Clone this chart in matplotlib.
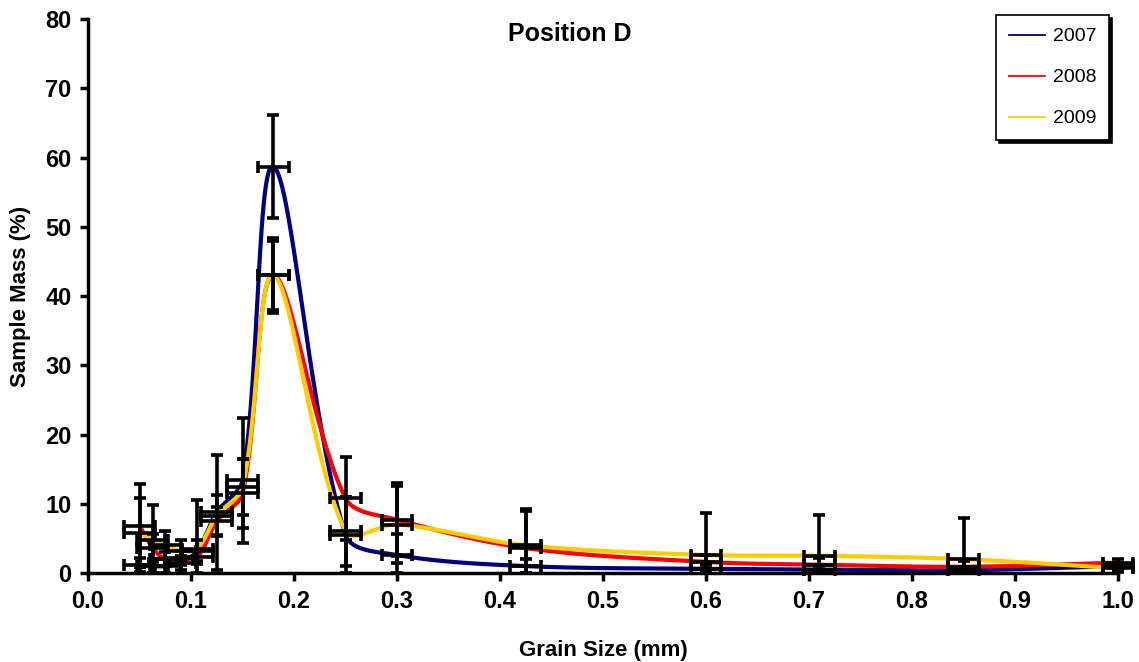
import numpy as np
import matplotlib
matplotlib.use('Agg')
import matplotlib.pyplot as plt
from matplotlib.lines import Line2D

# grain size classes (mm)
grain = [0.05, 0.063, 0.075, 0.09, 0.106, 0.125, 0.15, 0.18, 0.25, 0.3, 0.425, 0.6, 0.71, 0.85, 1.0]

# sample mass (%) per year
mass_2007 = [1.2, 1.0, 1.0, 1.5, 3.2, 8.8, 13.4, 58.7, 5.5, 2.6, 1.0, 0.6, 0.5, 0.4, 1.0]
mass_2008 = [6.8, 3.6, 2.0, 2.2, 2.3, 7.5, 11.5, 43.0, 10.8, 7.7, 3.6, 1.6, 1.2, 0.9, 1.5]
mass_2009 = [5.8, 4.8, 4.0, 3.2, 3.5, 8.3, 12.4, 43.0, 6.0, 7.0, 4.0, 2.6, 2.5, 2.0, 0.7]

# vertical error (+/-)
err_2007 = [1.0, 1.0, 1.0, 1.0, 1.5, 8.3, 9.0, 7.5, 5.5, 3.0, 1.0, 0.6, 0.5, 0.4, 0.5]
err_2008 = [6.0, 2.0, 1.0, 1.0, 1.0, 2.0, 5.0, 5.4, 6.0, 5.3, 5.7, 1.0, 1.0, 0.8, 0.5]
err_2009 = [5.0, 5.0, 2.0, 1.5, 7.0, 3.0, 4.0, 5.0, 5.0, 5.5, 5.0, 6.0, 5.9, 6.0, 0.5]
xerr = 0.015

years = ['2007', '2008', '2009']
colors = ['#000080', '#ff0000', '#ffcc00']


def smooth(x, y, sx=1030.0, sy=6.92, n=40):
    # excel-like smoothed line, control points scaled by segment length on screen
    P = np.column_stack([np.asarray(x, float) * sx, np.asarray(y, float) * sy])
    out = []
    for i in range(len(P) - 1):
        p0 = P[i - 1] if i > 0 else P[i]
        p1 = P[i]
        p2 = P[i + 1]
        p3 = P[i + 2] if i + 2 < len(P) else P[i + 1]
        d01 = np.hypot(*(p1 - p0))
        d12 = np.hypot(*(p2 - p1))
        d23 = np.hypot(*(p3 - p2))
        f1 = d12 / (d01 + d12) if d01 + d12 > 0 else 0
        f2 = d12 / (d12 + d23) if d12 + d23 > 0 else 0
        c1 = p1 + (p2 - p0) * f1 / 3.0
        c2 = p2 - (p3 - p1) * f2 / 3.0
        t = np.linspace(0, 1, n)[:, None]
        seg = ((1 - t) ** 3) * p1 + 3 * ((1 - t) ** 2) * t * c1 + 3 * (1 - t) * t ** 2 * c2 + t ** 3 * p2
        out.append(seg)
    seg = np.vstack(out)
    return seg[:, 0] / sx, seg[:, 1] / sy


plt.rcParams['font.family'] = ['Liberation Sans', 'DejaVu Sans']

fig = plt.figure(figsize=(11.39, 6.62), dpi=100)
ax = fig.add_axes([0.0773, 0.1344, 0.9043, 0.8369])

for m, c in zip([mass_2007, mass_2008, mass_2009], colors):
    sx, sy = smooth(grain, m)
    ax.plot(sx, sy, color=c, lw=3, zorder=2, clip_on=False)

for m, e in zip([mass_2007, mass_2008, mass_2009], [err_2007, err_2008, err_2009]):
    lo = np.minimum(e, m)
    ax.errorbar(grain, m, yerr=[lo, e], xerr=xerr, fmt='none', ecolor='black',
                elinewidth=2.6, capsize=4, capthick=2.6, zorder=3, clip_on=False)

ax.set_xlim(0, 1.0)
ax.set_ylim(0, 80)
ax.set_xticks(np.arange(0, 1.01, 0.1))
ax.set_xticklabels(['%.1f' % v for v in np.arange(0, 1.01, 0.1)])
ax.set_yticks(np.arange(0, 81, 10))

for s in ['top', 'right']:
    ax.spines[s].set_visible(False)
for s in ['left', 'bottom']:
    ax.spines[s].set_linewidth(2.5)
ax.tick_params(direction='out', length=6, width=2.5, labelsize=17, pad=6)
for lab in ax.get_xticklabels() + ax.get_yticklabels():
    lab.set_fontweight('bold')

ax.set_xlabel('Grain Size (mm)', fontsize=16, fontweight='bold', labelpad=20)
ax.set_ylabel('Sample Mass (%)', fontsize=16, fontweight='bold', labelpad=10)
ax.set_title('Position D', fontsize=18, fontweight='bold', x=0.468, y=0.945)

handles = [Line2D([], [], color=c, lw=1.3) for c in colors]
leg = ax.legend(handles, years, loc='upper right', bbox_to_anchor=(0.974, 0.977),
                bbox_transform=fig.transFigure, frameon=True, fancybox=False,
                shadow={'color': 'black', 'alpha': 1},
                handlelength=1.9, handletextpad=0.4, labelspacing=1.2,
                borderpad=0.65, borderaxespad=0,
                prop={'family': ['Liberation Sans', 'DejaVu Sans'], 'size': 14})
leg.get_frame().set_edgecolor('black')
leg.get_frame().set_linewidth(1.2)

fig.savefig('out.png', dpi=100)
